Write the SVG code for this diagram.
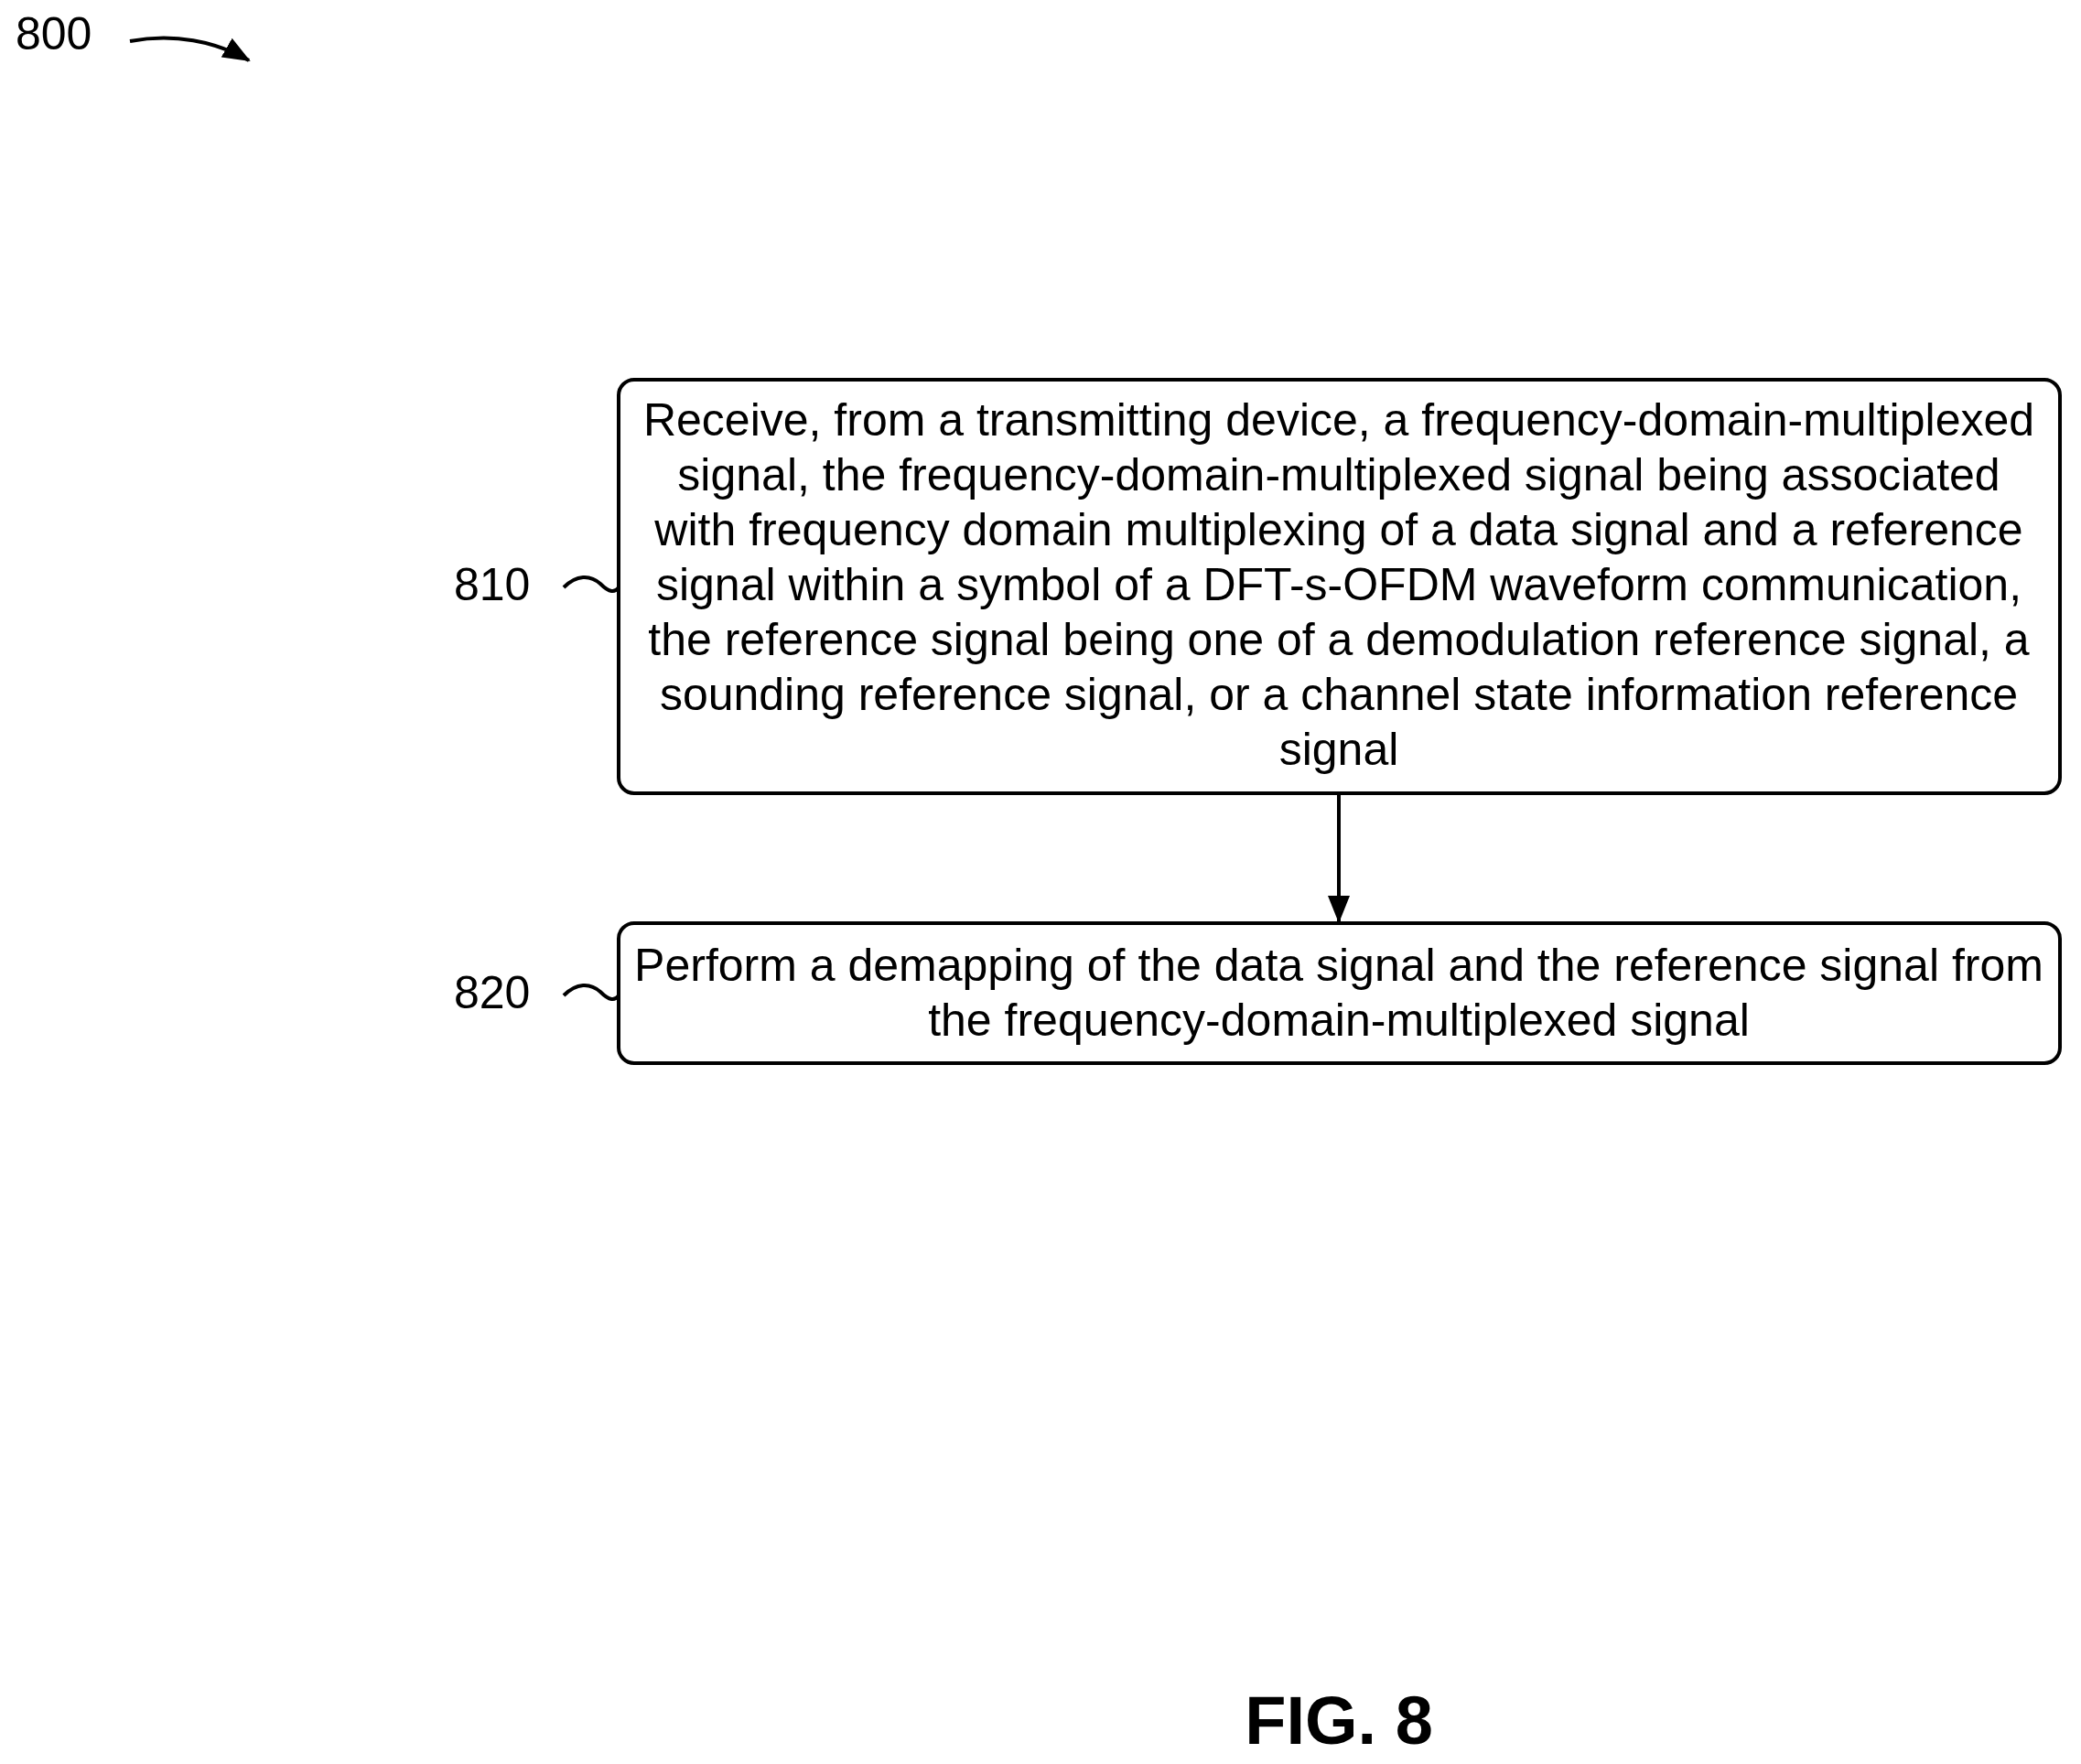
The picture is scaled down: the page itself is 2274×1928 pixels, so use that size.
<svg xmlns="http://www.w3.org/2000/svg" width="2274" height="1928" viewBox="0 0 2274 1928">
<style>
.t{font-family:"Liberation Sans",Arial,sans-serif;font-size:50px;fill:#000}
.c{text-anchor:middle}
.box{fill:#fff;stroke:#000;stroke-width:4}
.ln{fill:none;stroke:#000;stroke-width:4}
</style>
<defs>
<marker id="ah2" markerWidth="30" markerHeight="30" refX="28" refY="15" orient="auto" markerUnits="userSpaceOnUse" viewBox="0 0 30 30">
<path d="M0,3 L30,15 L0,27 z" fill="#000"/>
</marker>
</defs>
<rect width="2274" height="1928" fill="#fff"/>
<g id="n800">
<text class="t" x="17" y="54">800</text>
</g>
<g id="n810">
<rect class="box" x="676" y="415" width="1575" height="452" rx="17"/>
<text class="t c" x="1463" y="476">Receive, from a transmitting device, a frequency-domain-multiplexed</text>
<text class="t c" x="1463" y="536">signal, the frequency-domain-multiplexed signal being associated</text>
<text class="t c" x="1463" y="596">with frequency domain multiplexing of a data signal and a reference</text>
<text class="t c" x="1463" y="656">signal within a symbol of a DFT-s-OFDM waveform communication,</text>
<text class="t c" x="1463" y="716">the reference signal being one of a demodulation reference signal, a</text>
<text class="t c" x="1463" y="776">sounding reference signal, or a channel state information reference</text>
<text class="t c" x="1463" y="836">signal</text>
<text class="t" x="496" y="656">810</text>
</g>
<g id="n820">
<rect class="box" x="676" y="1009" width="1575" height="153" rx="17"/>
<text class="t c" x="1463" y="1072">Perform a demapping of the data signal and the reference signal from</text>
<text class="t c" x="1463" y="1132">the frequency-domain-multiplexed signal</text>
<text class="t" x="496" y="1102">820</text>
</g>
<g id="connectors">
<path class="ln" d="M142,45 C190,36 235,45 272,66" marker-end="url(#ah2)"/>
<path class="ln" d="M616,642 C630,628 645,628 656,638 C666,648 672,648 676,642"/>
<path class="ln" d="M616,1088 C630,1074 645,1074 656,1084 C666,1094 672,1094 676,1088"/>
<line class="ln" x1="1463" y1="869" x2="1463" y2="1007" marker-end="url(#ah2)"/>
</g>
<text class="t c" x="1463" y="1906" style="font-weight:bold;font-size:74px">FIG. 8</text>
</svg>
